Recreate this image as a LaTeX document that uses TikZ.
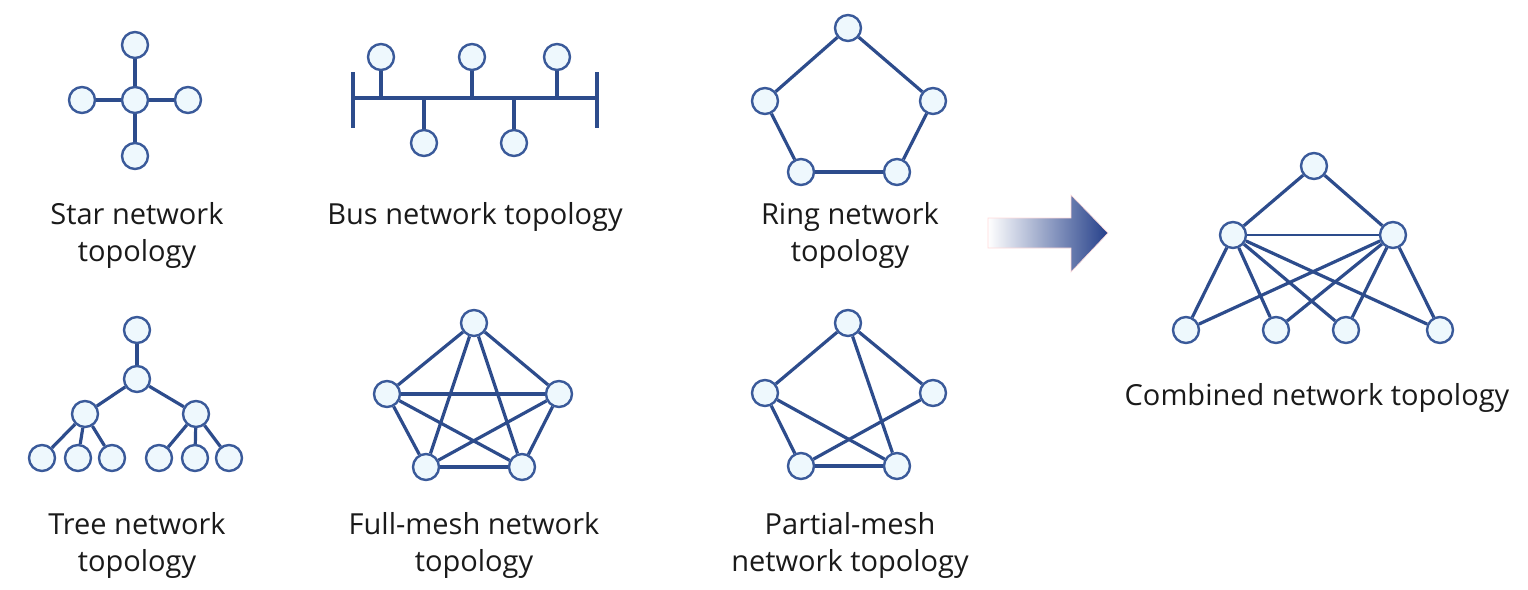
\documentclass[tikz,border=0pt]{standalone}
\usepackage{fontspec}
\setmainfont{Open Sans}
\usetikzlibrary{shadings}
\definecolor{edgeblue}{HTML}{2D4C8C}
\definecolor{nodefill}{HTML}{EEF8FD}
\definecolor{nodeline}{HTML}{3A5A9A}
\definecolor{txt}{HTML}{1A1A1A}
\definecolor{arrowblue}{HTML}{25408A}
\tikzset{
  nd/.style={circle, draw=nodeline, fill=nodefill, line width=2.4pt, minimum size=26pt, inner sep=0pt},
  ed/.style={draw=edgeblue, line width=3.2pt},
  thin ed/.style={draw=edgeblue, line width=1.8pt},
  lbl/.style={text=txt, align=center, font=\fontsize{29}{37}\selectfont}
}
\begin{document}
\begin{tikzpicture}[x=1pt,y=-1pt]
\useasboundingbox (0,0) rectangle (1528,589);
% Star
\node[nd] (sc) at (135,100) {};
\node[nd] (st) at (135,45) {};
\node[nd] (sb) at (135,156) {};
\node[nd] (sl) at (82,100) {};
\node[nd] (sr) at (188,100) {};
\draw[ed] (sc) -- (st); \draw[ed] (sc) -- (sb); \draw[ed] (sc) -- (sl); \draw[ed] (sc) -- (sr);
\node[lbl] (slbl) at (137,235) {Star network\\topology};
% Bus
\coordinate (bl1) at (353,72); \coordinate (bl2) at (353,128);
\coordinate (br1) at (597,72); \coordinate (br2) at (597,128);
\coordinate (bL) at (353,98); \coordinate (bR) at (597,98);
\draw[ed] (bl1) -- (bl2); \draw[ed] (br1) -- (br2); \draw[ed] (bL) -- (bR);
\node[nd] (b1) at (381,57) {}; \coordinate (b1s) at (381,98);
\node[nd] (b2) at (472,57) {}; \coordinate (b2s) at (472,98);
\node[nd] (b3) at (557,57) {}; \coordinate (b3s) at (557,98);
\node[nd] (b4) at (424,143) {}; \coordinate (b4s) at (424,98);
\node[nd] (b5) at (514,143) {}; \coordinate (b5s) at (514,98);
\draw[ed] (b1) -- (b1s); \draw[ed] (b2) -- (b2s); \draw[ed] (b3) -- (b3s);
\draw[ed] (b4) -- (b4s); \draw[ed] (b5) -- (b5s);
\node[lbl] (blbl) at (475,217) {Bus network topology};
% Ring
\node[nd] (rt) at (848,28) {};
\node[nd] (rl) at (765,101) {};
\node[nd] (rr) at (933,101) {};
\node[nd] (rbl) at (801,172) {};
\node[nd] (rbr) at (897,172) {};
\draw[ed] (rt) -- (rl); \draw[ed] (rt) -- (rr); \draw[ed] (rl) -- (rbl);
\draw[ed] (rr) -- (rbr); \draw[ed] (rbl) -- (rbr);
\node[lbl] (rlbl) at (850,235) {Ring network\\topology};
% Tree
\node[nd] (t0) at (137,330) {};
\node[nd] (t1) at (137,379) {};
\node[nd] (t2) at (85,414) {};
\node[nd] (t3) at (196,414) {};
\node[nd] (t4) at (42,458) {};
\node[nd] (t5) at (78,458) {};
\node[nd] (t6) at (112,458) {};
\node[nd] (t7) at (159,458) {};
\node[nd] (t8) at (195,458) {};
\node[nd] (t9) at (229,458) {};
\draw[ed] (t0) -- (t1); \draw[ed] (t1) -- (t2); \draw[ed] (t1) -- (t3);
\draw[ed] (t2) -- (t4); \draw[ed] (t2) -- (t5); \draw[ed] (t2) -- (t6);
\draw[ed] (t3) -- (t7); \draw[ed] (t3) -- (t8); \draw[ed] (t3) -- (t9);
\node[lbl] (tlbl) at (137,545) {Tree network\\topology};
% Full mesh
\node[nd] (ft) at (474,323) {};
\node[nd] (fl) at (387,394) {};
\node[nd] (fr) at (559,394) {};
\node[nd] (fbl) at (426,467) {};
\node[nd] (fbr) at (522,467) {};
\draw[ed] (ft) -- (fl); \draw[ed] (ft) -- (fr); \draw[ed] (ft) -- (fbl); \draw[ed] (ft) -- (fbr);
\draw[ed] (fl) -- (fr); \draw[ed] (fl) -- (fbl); \draw[ed] (fl) -- (fbr);
\draw[ed] (fr) -- (fbl); \draw[ed] (fr) -- (fbr); \draw[ed] (fbl) -- (fbr);
\node[lbl] (flbl) at (474,545) {Full-mesh network\\topology};
% Partial mesh
\node[nd] (pt) at (848,323) {};
\node[nd] (pl) at (765,393) {};
\node[nd] (pr) at (933,393) {};
\node[nd] (pbl) at (801,466) {};
\node[nd] (pbr) at (897,466) {};
\draw[ed] (pt) -- (pl); \draw[ed] (pt) -- (pr); \draw[ed] (pt) -- (pbr);
\draw[ed] (pl) -- (pbl); \draw[ed] (pl) -- (pbr); \draw[ed] (pr) -- (pbl); \draw[ed] (pbl) -- (pbr);
\node[lbl] (plbl) at (850,545) {Partial-mesh\\network topology};
% Arrow
\shade[left color=white, right color=arrowblue, middle color=arrowblue!50, draw=red!15, line width=0.6pt]
  (988,218) -- (1071,218) -- (1071,195) -- (1108,233) -- (1071,272) -- (1071,248) -- (988,248) -- cycle;
% Combined
\node[nd] (ct) at (1314,166) {};
\node[nd] (cl) at (1233,235) {};
\node[nd] (cr) at (1393,235) {};
\node[nd] (c1) at (1186,330) {};
\node[nd] (c2) at (1276,330) {};
\node[nd] (c3) at (1346,330) {};
\node[nd] (c4) at (1440,330) {};
\draw[ed] (ct) -- (cl); \draw[ed] (ct) -- (cr); \draw[thin ed] (cl) -- (cr);
\foreach \b in {c1,c2,c3,c4} { \draw[ed] (cl) -- (\b); \draw[ed] (cr) -- (\b); }
\node[lbl] (clbl) at (1317,398) {Combined network topology};
\end{tikzpicture}
\end{document}
